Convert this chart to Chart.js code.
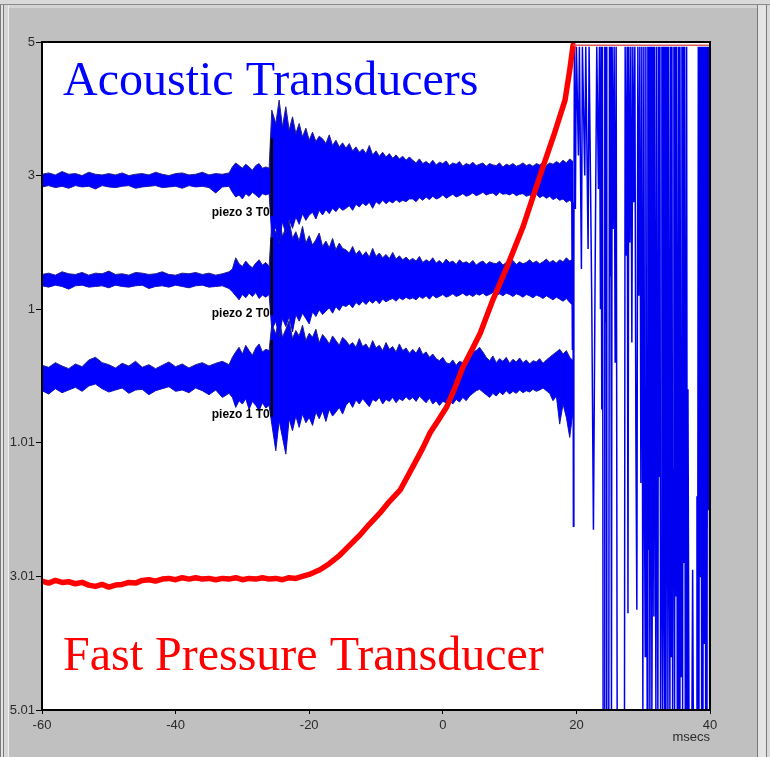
<html>
<head>
<meta charset="utf-8">
<title>Acoustic and Fast Pressure Transducers</title>
<style>
  body { margin: 0; width: 770px; height: 757px; background: #c0c0c0; position: relative; overflow: hidden; }
  #edge-top { position: absolute; left: 0; top: 0; width: 770px; height: 4px; background: #dadada; border-bottom: 1px solid #8a8a8a; }
  #edge-top2 { position: absolute; left: 0; top: 5px; width: 770px; height: 3px; background: #d4d4d4; }
  #edge-left { position: absolute; left: 0; top: 5px; width: 2px; height: 752px; background: #e4e4e4; border-left: 1px solid #7a7a7a; border-right: 1px solid #7a7a7a; }
  #edge-left2 { position: absolute; left: 4px; top: 5px; width: 4px; height: 752px; background: #d6d6d6; border-right: 1px solid #eeeeee; }
  #edge-right { position: absolute; left: 757px; top: 5px; width: 8px; height: 752px; background: #e4e4e4; border-left: 1px solid #7a7a7a; border-right: 1px solid #7a7a7a; }
  #edge-right2 { position: absolute; left: 767px; top: 5px; width: 3px; height: 752px; background: #dadada; }
  canvas { position: absolute; left: 0; top: 0; }
</style>
</head>
<body>
<div id="edge-top"></div>
<div id="edge-top2"></div>
<div id="edge-left"></div>
<div id="edge-left2"></div>
<div id="edge-right"></div>
<div id="edge-right2"></div>
<canvas id="scope" width="770" height="757"></canvas>
<script src="https://cdn.jsdelivr.net/npm/chart.js"></script>
<script>
// axis labels as shown on the scope screen
const yTickValues = [5, 3, 1, -1, -3, -5];
const yTickLabels = ['5', '3', '1', '1.01', '3.01', '5.01'];
const titleTop = 'Acoustic Transducers';
const titleBottom = 'Fast Pressure Transducer';

// sample times (ms) for the three piezo traces
const noiseTime = [
  -60, -59, -58, -57, -56, -55, -54, -53, -52, -51,
  -50, -49, -48, -47, -46, -45, -44, -43, -42, -41,
  -40, -39, -38, -37, -36, -35, -34, -33, -32,
  -31.5, -31, -30.5, -30, -29.5, -29, -28.5, -28, -27.5, -27, -26.5,
  -26,
  -25.6, -25, -24.5, -24, -23.5, -23, -22.5, -22, -21.5, -21,
  -20.5, -20, -19.5, -19, -18.5, -18, -17.5, -17, -16.5, -16, -15.5, -15,
  -14.5, -14, -13.5, -13, -12.5, -12, -11.5, -11, -10.5, -10,
  -9.5, -9, -8.5, -8, -7.5, -7, -6.5, -6, -5.5, -5,
  -4.5, -4, -3.5, -3, -2.5, -2, -1.5, -1, -0.5, 0,
  0.5, 1, 1.5, 2, 2.5, 3, 3.5, 4, 4.5, 5,
  5.5, 6, 6.5, 7, 7.5, 8, 8.5, 9, 9.5, 10,
  10.5, 11, 11.5, 12, 12.5, 13, 13.5, 14, 14.5, 15,
  15.5, 16, 16.5, 17, 17.5, 18, 18.5, 19, 19.5
];

// piezo 3: baseline and top / bottom of the noise band (offsets)
const p3Base = 2.93;
const p3Up = [
  .09, .11, .08, .13, .09, .10, .07, .12, .09, .08,
  .10, .08, .11, .07, .09, .10, .08, .12, .09, .07,
  .10, .11, .08, .09, .12, .08, .10, .09, .11,
  .20, .26, .22, .18, .24, .20, .15, .22, .25, .18, .20,
  .18,
  1.05, .85, 1.20, .80, 1.10, .75, .95, .70, .85, .65,
  .78, .60, .72, .58, .66, .62, .55, .68, .52, .60, .50, .56,
  .48, .55, .44, .50, .42, .47, .40, .52, .38, .44,
  .36, .42, .35, .40, .33, .38, .32, .36, .30, .35,
  .30, .26, .32, .25, .28, .24, .30, .23, .27, .25,
  .29, .22, .26, .24, .28, .21, .25, .23, .27, .22,
  .24, .26, .21, .25, .23, .22, .26, .20, .24, .22,
  .25, .21, .23, .26, .22, .24, .21, .25, .23, .27,
  .22, .26, .24, .28, .25, .30, .26, .32, .28
];
const p3Lo = [
  -.10, -.08, -.11, -.09, -.12, -.08, -.10, -.09, -.13, -.08,
  -.10, -.11, -.09, -.08, -.12, -.10, -.09, -.08, -.11, -.10,
  -.09, -.12, -.08, -.10, -.09, -.11, -.19, -.10, -.09,
  -.18, -.25, -.22, -.28, -.20, -.24, -.18, -.22, -.26, -.20, -.22,
  -.20,
  -.85, -.70, -.95, -.62, -.80, -.58, -.72, -.55, -.66, -.50,
  -.60, -.52, -.48, -.58, -.45, -.52, -.44, -.50, -.42, -.47, -.40, -.45,
  -.42, -.38, -.45, -.36, -.40, -.34, -.38, -.33, -.42, -.32,
  -.36, -.30, -.35, -.31, -.34, -.29, -.33, -.30, -.32, -.28,
  -.28, -.32, -.26, -.30, -.25, -.29, -.24, -.28, -.26, -.22,
  -.27, -.24, -.21, -.25, -.23, -.20, -.24, -.22, -.19, -.23,
  -.21, -.18, -.22, -.20, -.19, -.23, -.18, -.21, -.20, -.22,
  -.19, -.23, -.21, -.20, -.24, -.22, -.25, -.21, -.26, -.23,
  -.27, -.24, -.29, -.26, -.30, -.28, -.33, -.30, -.35
];

// piezo 2
const p2Base = 1.44;
const p2Up = [
  .08, .10, .07, .12, .09, .08, .11, .07, .10, .09,
  .13, .08, .09, .07, .11, .10, .08, .09, .12, .08,
  .07, .10, .09, .11, .08, .10, .07, .09, .12,
  .16, .33, .24, .20, .28, .22, .18, .25, .30, .22, .26,
  .20,
  .85, .70, .95, .65, .78, .88, .62, .72, .58, .80,
  .55, .66, .52, .60, .70, .50, .58, .48, .62, .45, .55, .47,
  .45, .40, .50, .38, .44, .36, .42, .34, .47, .35,
  .40, .33, .38, .32, .41, .31, .36, .30, .34, .29,
  .32, .28, .35, .26, .30, .27, .33, .25, .29, .24,
  .31, .26, .28, .23, .30, .25, .27, .24, .29, .22,
  .26, .28, .23, .27, .25, .24, .28, .22, .26, .25,
  .29, .23, .27, .24, .26, .30, .25, .28, .24, .27,
  .31, .26, .29, .25, .30, .27, .33, .28, .31
];
const p2Lo = [
  -.09, -.11, -.08, -.10, -.14, -.09, -.08, -.11, -.10, -.09,
  -.12, -.08, -.10, -.11, -.09, -.08, -.13, -.10, -.09, -.11,
  -.08, -.10, -.12, -.09, -.08, -.11, -.10, -.09, -.13,
  -.18, -.24, -.30, -.22, -.27, -.20, -.25, -.19, -.28, -.23, -.26,
  -.22,
  -.75, -.62, -.85, -.58, -.70, -.55, -.78, -.52, -.62, -.50,
  -.58, -.66, -.48, -.55, -.45, -.52, -.47, -.42, -.50, -.40, -.46, -.38,
  -.40, -.36, -.42, -.34, -.38, -.32, -.37, -.31, -.35, -.30,
  -.36, -.29, -.33, -.30, -.28, -.32, -.27, -.30, -.26, -.29,
  -.27, -.30, -.25, -.28, -.24, -.29, -.23, -.27, -.25, -.22,
  -.26, -.24, -.21, -.25, -.23, -.20, -.24, -.22, -.25, -.21,
  -.23, -.20, -.24, -.22, -.19, -.23, -.21, -.24, -.20, -.22,
  -.25, -.21, -.23, -.26, -.22, -.24, -.27, -.23, -.25, -.28,
  -.24, -.27, -.30, -.26, -.29, -.32, -.28, -.34, -.38
];

// piezo 1
const p1Base = -0.02;
const p1Up = [
  .18, .15, .22, .17, .13, .20, .16, .26, .30, .22,
  .19, .14, .21, .17, .24, .15, .19, .13, .18, .23,
  .16, .20, .14, .19, .22, .17, .21, .24, .19,
  .30, .38, .45, .35, .48, .40, .33, .44, .50, .38, .42,
  .40,
  .80, .65, .90, .60, .72, .85, .58, .70, .62, .78,
  .55, .66, .60, .72, .52, .64, .58, .50, .62, .55, .48, .60,
  .55, .48, .52, .45, .58, .46, .50, .42, .55, .44,
  .48, .40, .52, .42, .46, .38, .50, .40, .44, .36,
  .42, .36, .45, .34, .38, .30, .35, .28, .25, .30,
  .22, .20, .26, .18, .24, .22, .28, .32, .38, .40,
  .45, .38, .30, .25, .32, .22, .28, .24, .30, .21,
  .27, .23, .29, .22, .26, .20, .25, .23, .28, .21,
  .26, .30, .34, .38, .42, .35, .40, .30, .25
];
const p1Lo = [
  -.20, -.25, -.17, -.23, -.19, -.15, -.21, -.13, -.10, -.17,
  -.22, -.19, -.16, -.24, -.19, -.18, -.26, -.20, -.17, -.14,
  -.21, -.19, -.23, -.16, -.20, -.26, -.19, -.30, -.24,
  -.30, -.45, -.35, -.40, -.32, -.48, -.36, -.42, -.50, -.38, -.46,
  -.42,
  -.70, -1.10, -.65, -.90, -1.15, -.62, -.80, -.58, -.75, -.55,
  -.68, -.60, -.72, -.52, -.62, -.50, -.66, -.48, -.58, -.52, -.45, -.55,
  -.42, -.36, -.45, -.34, -.40, -.32, -.38, -.44, -.33, -.36,
  -.30, -.40, -.33, -.36, -.30, -.38, -.32, -.35, -.29, -.34,
  -.30, -.36, -.28, -.33, -.38, -.31, -.40, -.35, -.42, -.36,
  -.38, -.34, -.40, -.33, -.37, -.30, -.35, -.28, -.24, -.20,
  -.18, -.22, -.26, -.30, -.24, -.28, -.22, -.26, -.20, -.25,
  -.21, -.24, -.19, -.23, -.20, -.22, -.18, -.21, -.19, -.16,
  -.20, -.24, -.35, -.28, -.70, -.40, -.60, -.90, -.50
];

// saturated section after 19 ms (all piezo channels swinging rail to rail)
const wildTime = [
  19.30, 19.40, 19.48, 19.55, 19.62, 19.70, 19.85, 20.00, 20.30, 20.45,
  20.75, 20.90, 21.25, 21.40, 21.75, 21.90, 22.30, 22.55, 22.80, 23.05,
  23.30, 23.45,
  23.60, 23.70, 23.80, 23.90, 24.00, 24.15, 24.25, 24.35, 24.45, 24.55,
  24.85, 24.95, 25.05, 25.15, 25.25, 25.35, 25.50, 25.65, 25.80, 25.95,
  26.10, 27.20, 27.30, 27.45, 27.60, 27.72, 27.85, 28.00, 28.15, 28.30,
  28.45, 28.60, 28.75, 28.90, 29.05, 29.20, 29.35, 29.50, 29.65, 29.80,
  29.95,
  30.1, 30.2, 30.3, 30.4, 30.5, 30.6, 30.7, 30.8, 30.9, 31.0,
  31.1, 31.2, 31.3, 31.4, 31.5, 31.6, 31.7, 31.8, 31.9, 32.0,
  32.1, 32.2, 32.3, 32.4, 32.5, 32.6, 32.7, 32.8, 32.9, 33.0,
  33.1, 33.2, 33.3, 33.4, 33.5, 33.6, 33.7, 33.8, 33.9, 34.0,
  34.1, 34.2, 34.3, 34.4, 34.5, 34.6, 34.7, 34.8, 34.9, 35.0,
  35.1, 35.2, 35.3, 35.4, 35.5, 35.6, 35.7, 35.8, 35.9, 36.0,
  36.1, 36.2, 36.3, 36.4, 36.5, 36.6,
  36.70, 36.85, 37.30, 37.40, 37.50, 37.95, 38.05, 38.15,
  38.25, 38.35, 38.45, 38.55, 38.65, 38.75, 38.85, 38.95, 39.05, 39.15,
  39.25, 39.35, 39.45, 39.55, 39.65, 39.75, 39.85, 39.95, 40.00
];
const wildValue = [
  2.90, 0.4, 2.6, -2.25, 1.8, 4.93, 2.5, 4.93, 3.3, 4.93,
  1.6, 4.93, 3.0, 4.93, 1.9, 4.93, 1.1, -2.3, 1.5, 4.93,
  2.8, 4.93,
  1.0, 4.93, -0.5, 4.93, -5, -5, 4.93, 0.8, 4.93, -5,
  -5, 4.93, 1.5, 4.93, -5, 4.93, 2.2, 4.93, 0.2, 4.93,
  -5, -5, 4.93, 1.8, 4.93, -3.55, 4.93, 2.0, 4.93, 0.5,
  4.93, 2.6, 4.93, -0.8, -3.5, 4.93, 1.2, 4.93, -1.6, 4.93,
  -5,
  4.93, -2.0, -4.2, 4.93, -1.2, -5, 4.93, -2.6, 4.93, -5,
  -1.5, 4.93, -5, -1.8, 4.93, -3.6, 4.93, -0.6, -5, 4.93,
  -2.4, -5, 4.93, -1.5, 4.93, -5, -2.8, 4.93, -5, 4.93,
  -3.0, -5, 4.93, -5, -1.0, 4.93, -5, 4.93, -2.2, -5,
  4.93, -4.2, 4.93, -5, -1.4, 4.93, -5, 4.93, -3.3, 4.93,
  -5, -2.0, 4.93, -5, 4.93, -1.0, -4.5, 4.93, -5, 4.93,
  -2.8, 4.93, -5, -1.6, 4.93, -5,
  -0.2, -5, -5, -2.9, -5, -5, -1.8, -5,
  4.93, -5, 4.93, -3.0, 4.93, -5, 4.93, -5, 4.93, -4.0,
  4.93, -5, 4.93, -5, 4.93, -2.0, 4.93, -5, 4.93
];

// fast pressure transducer
const pressureTime = [
  -60, -59, -58, -57, -56, -55, -54, -53, -52, -51,
  -50, -49, -48, -47, -46, -45, -44, -43, -42, -41,
  -40, -39, -38, -37, -36, -35, -34, -33, -32, -31,
  -30, -29, -28, -27, -26, -25, -24, -23, -22,
  -21.4, -20, -18.4, -17, -15.4, -14, -12.4, -11, -9.4, -8,
  -6.4, -4.5, -3, -1.9, -0.6, 0.6, 1.8, 3, 4.3, 5.6,
  7.5, 9.6, 12, 13.5, 15, 16.7, 18.3, 19, 19.5
];
const pressureValue = [
  -3.07, -3.10, -3.06, -3.09, -3.08, -3.11, -3.09, -3.13, -3.15, -3.12,
  -3.16, -3.13, -3.12, -3.09, -3.10, -3.06, -3.05, -3.07, -3.04, -3.03,
  -3.05, -3.02, -3.04, -3.02, -3.04, -3.03, -3.05, -3.03, -3.04, -3.02,
  -3.05, -3.03, -3.04, -3.02, -3.04, -3.03, -3.05, -3.02, -3.03,
  -3.01, -2.97, -2.90, -2.81, -2.68, -2.54, -2.38, -2.22, -2.05, -1.88,
  -1.71, -1.36, -1.08, -0.85, -0.65, -0.46, -0.18, 0.13, 0.38, 0.64,
  1.14, 1.63, 2.23, 2.68, 3.13, 3.63, 4.13, 4.58, 4.95
];
const pressureSatTime = [19.5, 40];
const pressureSatValue = [4.95, 4.95];

// T0 markers
const t0Time = -25.6;
const t0Names = ['piezo 3 T0', 'piezo 2 T0', 'piezo 1 T0'];
const t0Top = [3.56, 2.07, 0.54];
const t0Bottom = [2.40, 0.91, -0.61];
const t0LabelValue = [2.44, 0.94, -0.58];

function pairs(xs, ys) {
  return xs.map((t, i) => ({ x: t, y: ys[i] }));
}
function band(base, offsets) {
  return noiseTime.map((t, i) => ({ x: t, y: base + offsets[i] }));
}

const traceEdge = '#23238a';
const traceFill = '#0000ff';

const datasets = [];
for (let i = 0; i < 3; i++) {
  datasets.push({ data: pairs([t0Time, t0Time], [t0Top[i], t0Bottom[i]]), borderColor: '#000000', borderWidth: 2.5 });
}
datasets.push({ data: pairs(pressureSatTime, pressureSatValue), borderColor: '#e05a5a', borderWidth: 1.5 });
datasets.push({ data: pairs(pressureTime, pressureValue), borderColor: '#ff0000', borderWidth: 5.5, borderJoinStyle: 'round', borderCapStyle: 'round' });
datasets.push({ data: pairs(wildTime, wildValue), borderColor: '#0000f0', borderWidth: 1.5 });
[[p3Base, p3Up, p3Lo], [p2Base, p2Up, p2Lo], [p1Base, p1Up, p1Lo]].forEach(([base, up, lo]) => {
  datasets.push({ data: band(base, up), borderColor: traceEdge, borderWidth: 1, backgroundColor: traceFill, fill: '+1' });
  datasets.push({ data: band(base, lo), borderColor: traceEdge, borderWidth: 1, fill: false });
});

const framePlugin = {
  id: 'frame',
  beforeDraw(chart) {
    const { ctx, chartArea: a } = chart;
    ctx.save();
    ctx.fillStyle = '#ffffff';
    ctx.fillRect(a.left, a.top, a.right - a.left, a.bottom - a.top);
    ctx.restore();
  },
  beforeDatasetsDraw(chart) {
    const { ctx, chartArea: a } = chart;
    ctx.save();
    ctx.font = '48px "Liberation Serif"';
    ctx.textBaseline = 'alphabetic';
    ctx.textAlign = 'left';
    ctx.fillStyle = '#0000ff';
    ctx.fillText(titleTop, a.left + 21, a.top + 53);
    ctx.fillStyle = '#ff0000';
    ctx.fillText(titleBottom, a.left + 21, a.bottom - 40);
    ctx.restore();
  },
  afterDatasetsDraw(chart) {
    const { ctx, chartArea: a, scales } = chart;
    ctx.save();
    ctx.strokeStyle = '#000000';
    ctx.lineWidth = 2;
    ctx.strokeRect(a.left, a.top, a.right - a.left, a.bottom - a.top);
    ctx.font = 'bold 12px "Liberation Sans"';
    ctx.fillStyle = '#000000';
    ctx.textAlign = 'right';
    ctx.textBaseline = 'middle';
    t0Names.forEach((n, i) => {
      ctx.fillText(n, scales.x.getPixelForValue(t0Time) - 2, scales.y.getPixelForValue(t0LabelValue[i]));
    });
    ctx.restore();
  }
};

const tickFont = { family: 'Liberation Sans', size: 13 };

new Chart(document.getElementById('scope'), {
  type: 'line',
  data: { datasets: datasets },
  options: {
    responsive: false,
    animation: false,
    layout: { padding: { left: 0, right: 60, top: 42, bottom: 0 } },
    elements: { point: { radius: 0 }, line: { tension: 0 } },
    plugins: { legend: { display: false }, tooltip: { enabled: false } },
    scales: {
      x: {
        type: 'linear', min: -60, max: 40,
        ticks: { stepSize: 20, color: '#2a2a2a', font: tickFont, padding: 4, maxRotation: 0 },
        grid: { drawOnChartArea: false, tickLength: 4, color: '#000000' },
        border: { color: '#000000', width: 2 },
        title: { display: true, text: 'msecs', align: 'end', color: '#2a2a2a', font: tickFont, padding: { top: 0, bottom: 12 } },
        afterFit(scale) { scale.height = 47; }
      },
      y: {
        type: 'linear', min: -5, max: 5,
        ticks: {
          stepSize: 2, color: '#2a2a2a', font: tickFont, padding: 1,
          callback: v => { const k = yTickValues.indexOf(v); return k >= 0 ? yTickLabels[k] : ''; }
        },
        grid: { drawOnChartArea: false, tickLength: 6, color: '#000000' },
        border: { color: '#000000', width: 2 },
        afterFit(scale) { scale.width = 42; }
      }
    }
  },
  plugins: [framePlugin]
});
</script>
</body>
</html>
